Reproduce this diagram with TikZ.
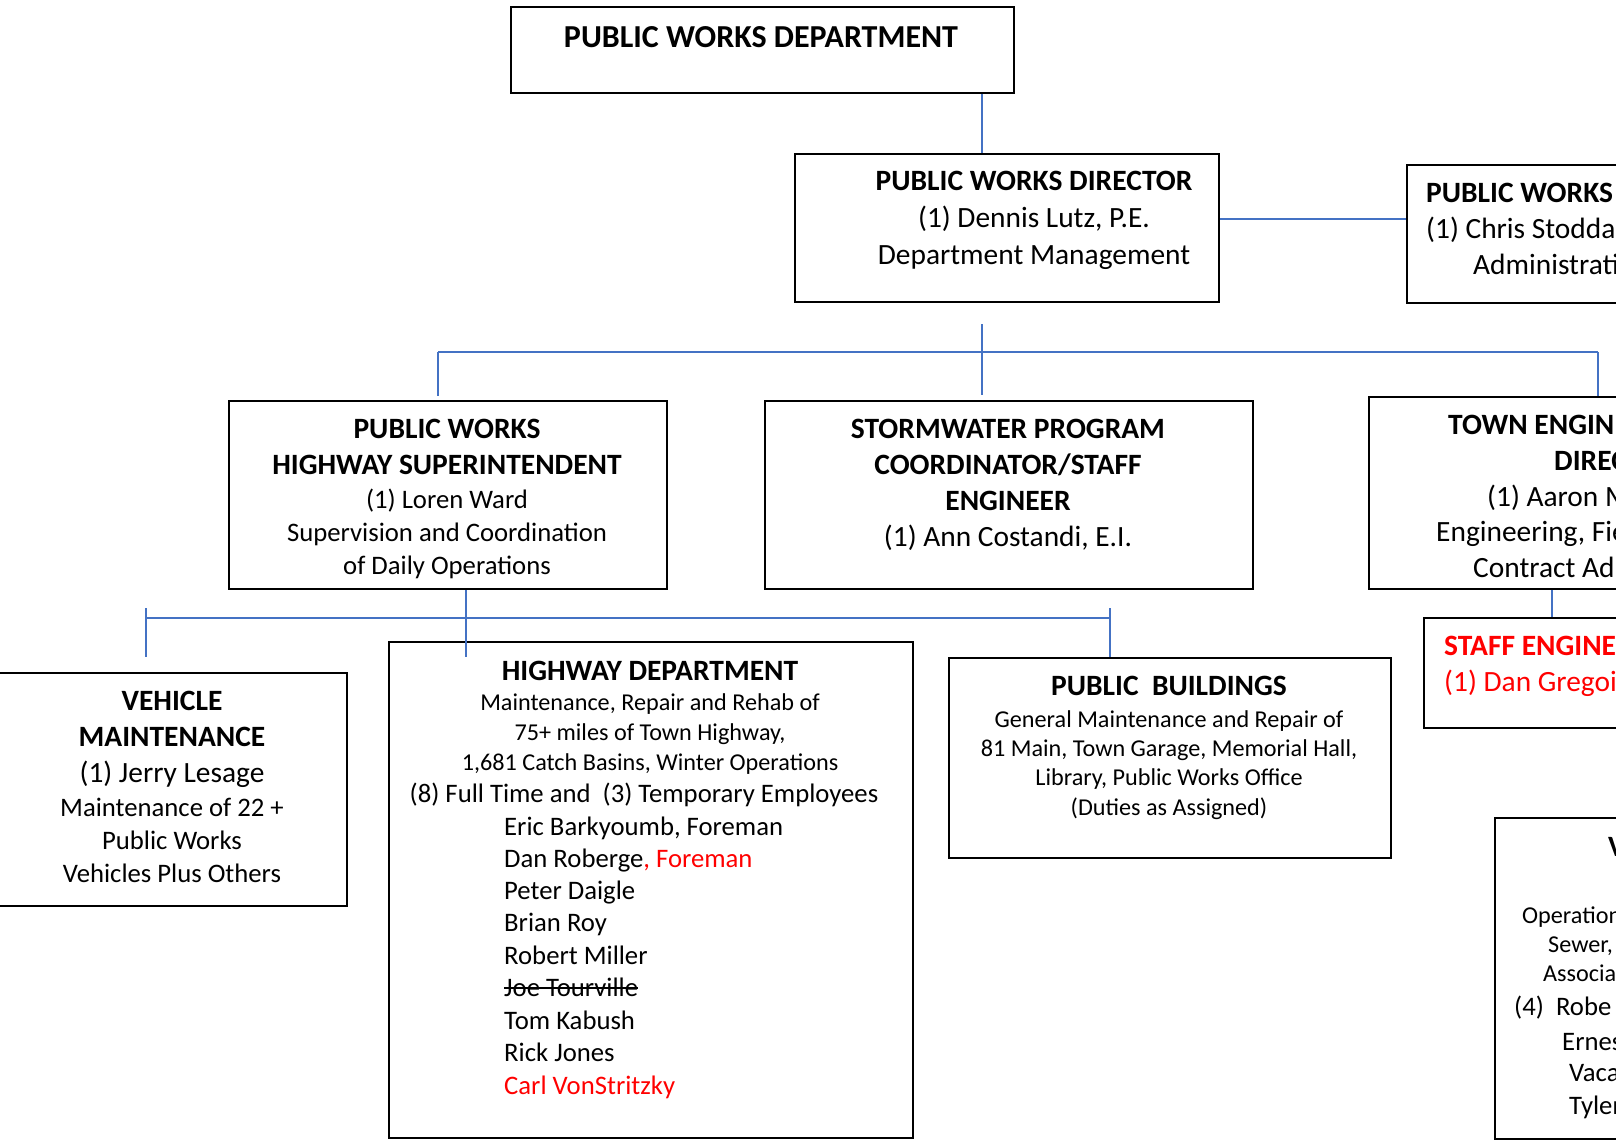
\documentclass[tikz,border=0pt]{standalone}
\usepackage{fontspec}
\setmainfont{Carlito}
\usetikzlibrary{calc}
\definecolor{connblue}{HTML}{4472C4}
\definecolor{redtxt}{HTML}{FF0000}
\begin{document}
\begin{tikzpicture}[x=1pt,y=-1pt,
  box/.style={draw=black, line width=2.4pt, anchor=north west, inner sep=0},
  link/.style={draw=connblue, line width=2pt},
  tb/.style={font=\fontsize{29.5}{36}\selectfont\bfseries, inner sep=0, anchor=base},
  tr/.style={font=\fontsize{29.4}{36}\selectfont, inner sep=0, anchor=base},
  tm/.style={font=\fontsize{26.7}{32}\selectfont, inner sep=0, anchor=base},
  ts/.style={font=\fontsize{24.2}{30}\selectfont, inner sep=0, anchor=base},
  lft/.style={anchor=base west}
]
\useasboundingbox (0,0) rectangle (1616,1142);
\fill[white] (0,0) rectangle (1616,1142);
\clip (0,0) rectangle (1616,1142);

% boxes
\node[box, minimum width=503pt, minimum height=86pt] (top) at (510,6) {};
\node[box, minimum width=424pt, minimum height=148pt] (dir) at (794,153) {};
\node[box, minimum width=300pt, minimum height=138pt] (admin) at (1406,164) {};
\node[box, minimum width=438pt, minimum height=188pt] (sup) at (228,400) {};
\node[box, minimum width=488pt, minimum height=188pt] (storm) at (764,400) {};
\node[box, minimum width=380pt, minimum height=192pt] (town) at (1368,396) {};
\node[box, minimum width=330pt, minimum height=110pt] (staff) at (1423,617) {};
\node[box, minimum width=370pt, minimum height=233pt] (veh) at (-24,672) {};
\node[box, minimum width=524pt, minimum height=496pt] (hd) at (388,641) {};
\node[box, minimum width=442pt, minimum height=200pt] (pb) at (948,657) {};
\node[box, minimum width=300pt, minimum height=321pt] (water) at (1494,817) {};

% connectors
\coordinate (jA) at (982,0);
\draw[link] (top.south -| jA) -- (dir.north -| jA);
\coordinate (jB) at (0,219);
\draw[link] (dir.east |- jB) -- (admin.west |- jB);
\coordinate (d1) at (982,324);
\coordinate (d2) at (982,395);
\draw[link] (d1) -- (d2);
\coordinate (hL) at (438,352);
\coordinate (hR) at (1598,352);
\draw[link] (hL) -- (hR);
\draw[link] (hL) -- ($(sup.north -| hL)+(0,-4)$);
\draw[link] (hR) -- (town.north -| hR);
\coordinate (jC) at (1552,0);
\draw[link] (town.south -| jC) -- (staff.north -| jC);
\coordinate (jD) at (466,0);
\draw[link] (sup.south -| jD) -- ($(hd.north -| jD)+(0,16)$);
\coordinate (gL) at (146,618);
\coordinate (gR) at (1110,618);
\draw[link] (gL) -- (gR);
\draw[link] ($(gL)+(0,-10)$) -- ($(veh.north -| gL)+(0,-15)$);
\draw[link] ($(gR)+(0,-10)$) -- (pb.north -| gR);

% top
\node[tb, font=\fontsize{32}{38}\selectfont\bfseries] (t1) at (761,48) {PUBLIC WORKS DEPARTMENT};
% director
\node[tb] (dr1) at (1034,191) {PUBLIC WORKS DIRECTOR};
\node[tr] (dr2) at (1034,227) {(1) Dennis Lutz, P.E.};
\node[tr] (dr3) at (1034,264) {Department Management};
% admin (cut off)
\node[tb, lft] (ad1) at (1426,202) {PUBLIC WORKS};
\node[tr, lft] (ad2) at (1426,238) {(1) Chris Stodda};
\node[tr, lft] (ad3) at (1473,274) {Administrati};
% superintendent
\node[tb] (su1) at (447,438) {PUBLIC WORKS};
\node[tb] (su2) at (447,474) {HIGHWAY SUPERINTENDENT};
\node[tm] (su3) at (447,508) {(1) Loren Ward};
\node[tm] (su4) at (447,541) {Supervision and Coordination};
\node[tm] (su5) at (447,574) {of Daily Operations};
% stormwater
\node[tb] (st1) at (1008,438) {STORMWATER PROGRAM};
\node[tb] (st2) at (1008,474) {COORDINATOR/STAFF};
\node[tb] (st3) at (1008,510) {ENGINEER};
\node[tr] (st4) at (1008,546) {(1) Ann Costandi, E.I.};
% town engineer (cut off)
\node[tb, lft] (te1) at (1448,434) {TOWN ENGIN};
\node[tb, lft] (te2) at (1554,470) {DIREC};
\node[tr, lft] (te3) at (1487,506) {(1) Aaron M};
\node[tr, lft] (te4) at (1436,541) {Engineering, Fie};
\node[tr, lft] (te5) at (1473,577) {Contract Ad};
% staff engineer (cut off)
\node[tb, lft, text=redtxt] (se1) at (1444,655) {STAFF ENGINE};
\node[tr, lft, text=redtxt] (se2) at (1444,691) {(1) Dan Gregoi};
% vehicle maintenance
\node[tb] (vm1) at (172,710) {VEHICLE};
\node[tb] (vm2) at (172,746) {MAINTENANCE};
\node[tr] (vm3) at (172,782) {(1) Jerry Lesage};
\node[tm] (vm4) at (172,816) {Maintenance of 22 +};
\node[tm] (vm5) at (172,849) {Public Works};
\node[tm] (vm6) at (172,882) {Vehicles Plus Others};
% highway department
\node[tb] (hd1) at (650,680) {HIGHWAY DEPARTMENT};
\node[ts] (hd2) at (650,710) {Maintenance, Repair and Rehab of};
\node[ts] (hd3) at (650,740) {75+ miles of Town Highway,};
\node[ts] (hd4) at (650,770) {1,681 Catch Basins, Winter Operations};
\node[tm] (hd5) at (644,802) {(8) Full Time and\ \ (3) Temporary Employees};
\node[tm, lft] (hd6) at (504,835) {Eric Barkyoumb, Foreman};
\node[tm, lft] (hd7) at (504,867) {Dan Roberge{\color{redtxt}, Foreman}};
\node[tm, lft] (hd8) at (504,899) {Peter Daigle};
\node[tm, lft] (hd9) at (504,931) {Brian Roy};
\node[tm, lft] (hd10) at (504,964) {Robert Miller};
\node[tm, lft] (hd11) at (504,996) {Joe Tourville};
\draw[line width=1.6pt] ($(hd11.base west)+(0,-8)$) -- ($(hd11.base east)+(0,-8)$);
\node[tm, lft] (hd12) at (504,1029) {Tom Kabush};
\node[tm, lft] (hd13) at (504,1061) {Rick Jones};
\node[tm, lft, text=redtxt] (hd14) at (504,1094) {Carl VonStritzky};
% public buildings
\node[tb] (pb1) at (1169,695) {PUBLIC\ \ BUILDINGS};
\node[ts] (pb2) at (1169,727) {General Maintenance and Repair of};
\node[ts] (pb3) at (1169,756) {81 Main, Town Garage, Memorial Hall,};
\node[ts] (pb4) at (1169,785) {Library, Public Works Office};
\node[ts] (pb5) at (1169,815) {(Duties as Assigned)};
% water (cut off)
\node[tb, lft] (wa1) at (1608,856) {V};
\node[ts, lft] (wa2) at (1522,923) {Operation};
\node[ts, lft] (wa3) at (1548,952) {Sewer,};
\node[ts, lft] (wa4) at (1543,981) {Associa};
\node[tm, lft] (wa5) at (1514,1015) {(4)\ \ Robe};
\node[tm, lft] (wa6) at (1562,1050) {Ernes};
\node[tm, lft] (wa7) at (1569,1081) {Vaca};
\node[tm, lft] (wa8) at (1569,1114) {Tyler};
\end{tikzpicture}
\end{document}
